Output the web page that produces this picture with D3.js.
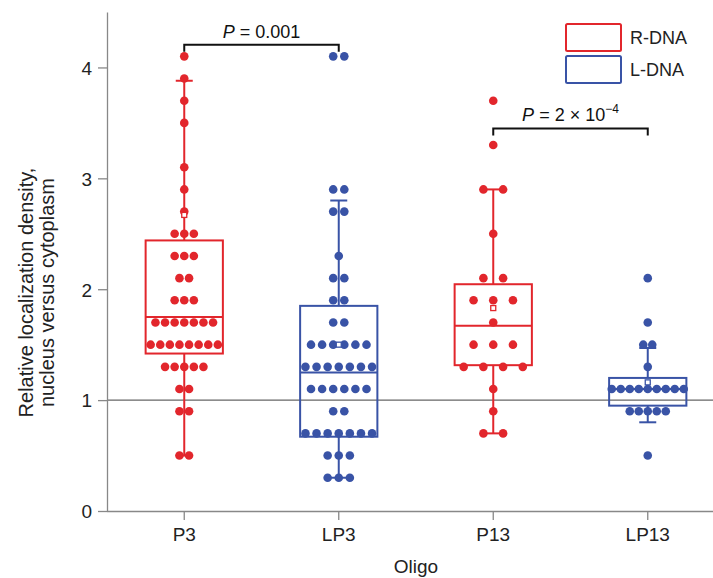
<!DOCTYPE html>
<html>
<head>
<meta charset="utf-8">
<script src="https://cdn.jsdelivr.net/npm/d3@7"></script>
<style>
  body { margin: 0; background: #fff; }
  svg { display: block; font-family: 'Liberation Sans', Arial, sans-serif; }
</style>
</head>
<body>
<div id="chart"></div>
<script>
// categories and groups
const oligos = ['P3', 'LP3', 'P13', 'LP13'];
const chirality = ['R-DNA', 'L-DNA', 'R-DNA', 'L-DNA'];
const legendLabels = ['R-DNA', 'L-DNA'];
const yTicks = [0, 1, 2, 3, 4];

const p3Values = [4.1, 3.9, 3.7, 3.5, 3.1, 2.9, 2.7, 2.5, 2.5, 2.5, 2.3, 2.3, 2.3, 2.1, 2.1,
  1.9, 1.9, 1.9, 1.7, 1.7, 1.7, 1.7, 1.7, 1.7, 1.7, 1.5, 1.5, 1.5, 1.5, 1.5, 1.5, 1.5, 1.5,
  1.3, 1.3, 1.3, 1.3, 1.3, 1.1, 1.1, 0.9, 0.9, 0.5, 0.5];
const lp3Values = [4.1, 4.1, 2.9, 2.9, 2.7, 2.7, 2.3, 2.1, 2.1, 1.9, 1.9, 1.7, 1.7,
  1.5, 1.5, 1.5, 1.5, 1.5, 1.5, 1.3, 1.3, 1.3, 1.3, 1.3, 1.3, 1.3, 1.1, 1.1, 1.1, 1.1, 1.1, 1.1,
  0.9, 0.9, 0.7, 0.7, 0.7, 0.7, 0.7, 0.7, 0.7, 0.5, 0.5, 0.5, 0.3, 0.3, 0.3];
const p13Values = [3.7, 3.3, 2.9, 2.9, 2.5, 2.1, 2.1, 1.9, 1.9, 1.9, 1.7, 1.5, 1.5, 1.5,
  1.3, 1.3, 1.3, 1.3, 1.1, 0.9, 0.7, 0.7];
const lp13Values = [2.1, 1.7, 1.5, 1.5, 1.3, 1.1, 1.1, 1.1, 1.1, 1.1, 1.1, 1.1, 1.1, 1.1,
  0.9, 0.9, 0.9, 0.9, 0.9, 0.5];
const groupValues = [p3Values, lp3Values, p13Values, lp13Values];

// box statistics
const q1 = [1.42, 0.67, 1.315, 0.95];
const median = [1.75, 1.25, 1.67, 1.1];
const q3 = [2.44, 1.85, 2.045, 1.2];
const whiskerLow = [0.5, 0.3, 0.7, 0.8];
const whiskerHigh = [3.88, 2.8, 2.9, 1.47];
const means = [2.67, 1.5, 1.83, 1.16];

// significance brackets
const comparisons = [
  { from: 'P3', to: 'LP3', level: 4.205, label: ['0.001'] },
  { from: 'P13', to: 'LP13', level: 3.45, label: ['2 × 10', '−4'] },
];

// layout / style
const width = 713, height = 578;
const margin = { top: 12, left: 107, bottom: 67 };
const colors = { 'R-DNA': '#e2262c', 'L-DNA': '#3953a6' };
const dotStep = [9.6, 11.1, 19.7, 9];
const dotRadius = 4.3;
const capHalf = 8.5;

const svg = d3.select('#chart').append('svg').attr('width', width).attr('height', height);

const x = d3.scaleBand().domain(oligos).range([margin.left, 725]);
const cx = (o) => x(o) + x.bandwidth() / 2;
const y = d3.scaleLinear().domain([0, 4.5]).range([height - margin.bottom, margin.top]);
const boxHalf = x.bandwidth() * 0.25;

// reference line at 1
svg.append('line')
  .attr('x1', margin.left).attr('x2', width)
  .attr('y1', y(1)).attr('y2', y(1))
  .attr('stroke', '#666').attr('stroke-width', 1.2);

// axes
const axisColor = '#888';
const gx = svg.append('g').attr('transform', `translate(0, ${y(0)})`)
  .call(d3.axisBottom(x).tickSize(9).tickSizeOuter(0).tickPadding(8));
gx.select('.domain').attr('d', `M${margin.left},0.5H${width}`);
const gy = svg.append('g').attr('transform', `translate(${margin.left}, 0)`)
  .call(d3.axisLeft(y).tickValues(yTicks).tickFormat(d3.format('d')).tickSize(9).tickSizeOuter(0).tickPadding(6));
[gx, gy].forEach((g) => {
  g.select('.domain').attr('stroke', axisColor).attr('stroke-width', 1.3);
  g.selectAll('.tick line').attr('stroke', axisColor).attr('stroke-width', 1.3);
  g.selectAll('.tick text').attr('fill', '#222').style('font-size', '19px');
});
gy.selectAll('.tick text').attr('dy', '0.36em');

// axis labels
svg.append('text')
  .attr('x', cx('LP3') + x.bandwidth() / 2).attr('y', 573)
  .attr('text-anchor', 'middle').attr('fill', '#222').style('font-size', '19px')
  .text('Oligo');
const yLabel = svg.append('text')
  .attr('transform', `translate(33, ${y(1.97)}) rotate(-90)`)
  .attr('text-anchor', 'middle').attr('fill', '#222').style('font-size', '20px');
yLabel.append('tspan').attr('x', 0).attr('dy', 0).text('Relative localization density,');
yLabel.append('tspan').attr('x', 0).attr('dy', 21).text('nucleus versus cytoplasm');

// boxes and whiskers
oligos.forEach((o, i) => {
  const c = colors[chirality[i]];
  const g = svg.append('g').attr('stroke', c).attr('fill', 'none').attr('stroke-width', 2);
  const xc = cx(o);
  g.append('line').attr('x1', xc).attr('x2', xc).attr('y1', y(q3[i])).attr('y2', y(whiskerHigh[i]));
  g.append('line').attr('x1', xc).attr('x2', xc).attr('y1', y(q1[i])).attr('y2', y(whiskerLow[i]));
  g.append('line').attr('x1', xc - capHalf).attr('x2', xc + capHalf).attr('y1', y(whiskerHigh[i])).attr('y2', y(whiskerHigh[i]));
  g.append('line').attr('x1', xc - capHalf).attr('x2', xc + capHalf).attr('y1', y(whiskerLow[i])).attr('y2', y(whiskerLow[i]));
  g.append('rect')
    .attr('x', xc - boxHalf).attr('width', boxHalf * 2)
    .attr('y', y(q3[i])).attr('height', y(q1[i]) - y(q3[i]));
  g.append('line').attr('x1', xc - boxHalf).attr('x2', xc + boxHalf).attr('y1', y(median[i])).attr('y2', y(median[i]));
});

// dots: identical values laid out in centred rows
oligos.forEach((o, i) => {
  const c = colors[chirality[i]];
  const rows = d3.groups(groupValues[i], (v) => v);
  const pts = [];
  rows.forEach(([v, arr]) => {
    arr.forEach((_, k) => {
      pts.push({ v, dx: (k - (arr.length - 1) / 2) * dotStep[i] });
    });
  });
  svg.append('g').selectAll('circle').data(pts).join('circle')
    .attr('cx', (d) => cx(o) + d.dx)
    .attr('cy', (d) => y(d.v))
    .attr('r', dotRadius)
    .attr('fill', c);
  svg.append('rect')
    .attr('x', cx(o) - 2.5).attr('y', y(means[i]) - 2.5)
    .attr('width', 5).attr('height', 5)
    .attr('fill', '#fff').attr('stroke', c).attr('stroke-width', 1.3);
});

// significance brackets
comparisons.forEach((cmp) => {
  const x1 = cx(cmp.from), x2 = cx(cmp.to), yy = y(cmp.level);
  svg.append('path')
    .attr('d', `M${x1},${yy + 7}V${yy}H${x2}V${yy + 7}`)
    .attr('fill', 'none').attr('stroke', '#111').attr('stroke-width', 2);
  const t = svg.append('text')
    .attr('x', (x1 + x2) / 2).attr('y', yy - 7)
    .attr('text-anchor', 'middle').attr('fill', '#111').style('font-size', '18px');
  t.append('tspan').style('font-style', 'italic').text('P');
  t.append('tspan').text(' = ' + cmp.label[0]);
  if (cmp.label[1]) {
    t.append('tspan').attr('dy', -8).style('font-size', '12px').text(cmp.label[1]);
  }
});

// legend
legendLabels.forEach((lab, i) => {
  const ly = 24 + i * 32;
  svg.append('rect')
    .attr('x', 566).attr('y', ly).attr('width', 55).attr('height', 27).attr('rx', 1.5)
    .attr('fill', 'none').attr('stroke', colors[lab]).attr('stroke-width', 2);
  svg.append('text')
    .attr('x', 630).attr('y', ly + 13.5).attr('dy', '0.36em')
    .attr('fill', '#222').style('font-size', '18px').text(lab);
});
</script>
</body>
</html>
